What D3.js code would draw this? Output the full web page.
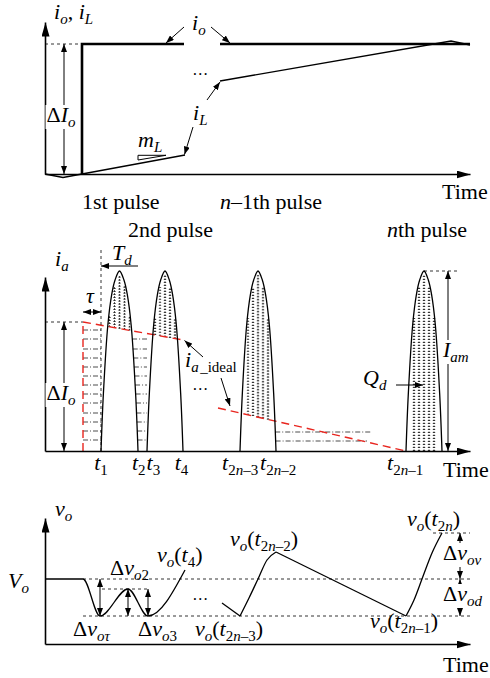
<!DOCTYPE html>
<meta charset="utf-8">
<style>
  body { margin: 0; background: #fff; }
  .thin { fill: none; stroke: #000; stroke-width: 1.3; }
  .thick { fill: none; stroke: #000; stroke-width: 2.6; }
  .ann { fill: none; stroke: #000; stroke-width: 1; }
  .guide { fill: none; stroke: #000; stroke-width: 0.8; stroke-dasharray: 3,3; }
  .red { fill: none; stroke: #e8261f; stroke-width: 1.4; stroke-dasharray: 8,5; }
  .hatch { fill: none; stroke: #000; stroke-width: 0.7; stroke-dasharray: 5,2,1,2; }
  .strip { fill: none; stroke: #111; stroke-width: 0.8; stroke-dasharray: 1.5,1.5; }
  .cross { fill: none; stroke: #111; stroke-width: 2.4; stroke-dasharray: 0.7,2.3; }
</style>
<body></body>
<script src="https://d3js.org/d3.v7.min.js"></script>
<script>
// ---- data (time in tenths of the axis length unit) ----
// top panel: output current i_o and inductor current i_L
var ioLevel = 13;                       // ΔI_o
var ioSegments = [[[3.7, 0], [3.7, 13], [13.9, 13]], [[17.5, 13], [42.5, 13]]];
var iLFirst = [[0, 0], [1.8, -0.35], [3.7, 0], [14.0, 1.9]];
var iLLast = [[17.5, 9.3], [40.6, 13.3], [42.5, 12.9]];
var mLWedge = [[9.3, 1.87], [12.1, 1.87], [9.3, 1.4]];

// middle panel: capacitor current pulses
var pulseStart = [5.6, 10.2, 19.5, 36.1];
var pulseEnd = [9.3, 13.8, 23.1, 39.7];
var pulsePeak = 18;                      // I_am
// pulse outline: [half-width fraction, height fraction]
var pulseProfile = [[1, 0], [0.87, 0.32], [0.63, 0.70], [0.42, 0.87], [0.24, 0.95], [0, 1]];
var idealFirst = [[3.8, 12.9], [13.8, 11.1]];
var idealLast = [[17.3, 4.3], [36.1, 0]];
var tauSpan = [3.8, 5.6];
var hatchLevels = [12.1, 11.2, 10.2, 9.3, 8.4, 7.5, 6.6, 5.7, 4.8, 3.8, 2.9, 2.0, 1.1];
var tailHatch = [[1.9, 32.7], [1.0, 32.2]];
var stripOffsets = [-1.0, -0.5, 0, 0.5, 1.0];

// bottom panel: output voltage around V_o
var voFirst = [[0, 0], [3.8, 0], [5.5, -3.7], [8.3, -1.0], [10.3, -3.7], [14.0, 0.9]];
var voDrop = [[17.7, -2.4], [19.5, -3.7]];
var voRise1 = [[19.5, -3.7], [20.4, -1.9], [21.3, 0], [22.2, 1.9], [23.1, 2.7]];
var voRamp = [[23.1, 2.7], [36.1, -3.7]];
var voRise2 = [[36.1, -3.7], [36.9, -2.1], [37.7, 0], [38.7, 2.6], [39.7, 4.6]];
var voGuides = [[0, 3.8, 42.5], [-3.7, 3.8, 42.5], [-1.0, 5.7, 10.3], [4.6, 38.8, 42.5]];
var voSpans = [[5.5, 0, -3.7], [8.3, -1.0, -3.7], [10.3, -1.0, -3.7], [41.5, 4.6, 0], [41.5, 0, -3.7]];

// ---- setup ----
var FONT = "'Liberation Serif', 'Times New Roman', 'DejaVu Serif', serif";
var svg = d3.select("body").append("svg").attr("width", 490).attr("height", 678);
var defs = svg.append("defs");
defs.append("marker").attr("id", "head").attr("viewBox", "0 0 8 6")
    .attr("refX", 8).attr("refY", 3).attr("markerWidth", 8).attr("markerHeight", 6)
    .attr("markerUnits", "userSpaceOnUse").attr("orient", "auto-start-reverse")
    .append("path").attr("d", "M0,0L8,3L0,6Z");
defs.append("marker").attr("id", "bigHead").attr("viewBox", "0 0 14 8")
    .attr("refX", 14).attr("refY", 4).attr("markerWidth", 14).attr("markerHeight", 8)
    .attr("markerUnits", "userSpaceOnUse").attr("orient", "auto")
    .append("path").attr("d", "M0,0L14,4L0,8Z");

var x = d3.scaleLinear().domain([0, 42.5]).range([45, 470]);
var yT = d3.scaleLinear().domain([0, 15.2]).range([174, 22]);
var yM = d3.scaleLinear().domain([0, 17.4]).range([451, 277]);
var yB = d3.scaleLinear().domain([-6.5, 6.1]).range([644, 518]);

function lineFor(y, curve) {
    return d3.line().x(function (d) { return x(d[0]); }).y(function (d) { return y(d[1]); })
        .curve(curve || d3.curveLinear);
}

function axes(y, base) {
    svg.append("g").attr("transform", "translate(0," + y(base) + ")")
        .call(d3.axisBottom(x).tickValues([]).tickSizeOuter(0))
        .select(".domain").attr("stroke-width", 1.6).attr("marker-end", "url(#bigHead)");
    svg.append("g").attr("transform", "translate(" + x(0) + ",0)")
        .call(d3.axisLeft(y).tickValues([]).tickSizeOuter(0))
        .select(".domain").attr("stroke-width", 1.6).attr("marker-end", "url(#bigHead)");
}

function arrow(y, x1, y1, x2, y2, both) {
    var l = svg.append("line").attr("class", "ann")
        .attr("x1", x(x1)).attr("y1", y(y1)).attr("x2", x(x2)).attr("y2", y(y2))
        .attr("marker-end", "url(#head)");
    if (both) l.attr("marker-start", "url(#head)");
}

function guide(y, pts, cls) {
    svg.append("path").attr("class", cls || "guide").attr("d", lineFor(y)(pts));
}

// parts: [text, flags] ; flags "i" italic, "s" subscript
function label(y, tx, ty, parts, anchor, bg, size) {
    var t = svg.append("text").attr("x", x(tx)).attr("y", y(ty))
        .attr("font-family", FONT).attr("font-size", size || 22)
        .attr("text-anchor", anchor || "start");
    var low = false;
    parts.forEach(function (p) {
        var f = p[1] || "", sub = f.indexOf("s") > -1;
        var s = t.append("tspan").text(p[0]);
        if (sub !== low) { s.attr("dy", sub ? 5 : -5); low = sub; }
        if (f.indexOf("i") > -1) s.attr("font-style", "italic");
        if (f.indexOf("g") > -1) s.attr("dx", 1.5);
        if (sub) s.attr("font-size", 15);
    });
    if (bg) {
        var b = t.node().getBBox();
        svg.insert("rect", function () { return t.node(); })
            .attr("x", b.x - 1).attr("y", b.y + 3).attr("width", b.width + 2)
            .attr("height", b.height - 4).attr("fill", "#fff");
    }
    return t;
}

function dots(y, tx, ty) {
    label(y, tx, ty, [["…"]], "middle", false, 16).attr("letter-spacing", 1.5);
}

// ---- top panel ----
guide(yT, [[0, ioLevel], [3.7, ioLevel]]);
arrow(yT, 1.9, 0, 1.9, ioLevel, true);
svg.append("path").attr("class", "thin").attr("d", lineFor(yT)(iLFirst));
svg.append("path").attr("class", "thin").attr("d", lineFor(yT)(iLLast));
ioSegments.forEach(function (s) {
    svg.append("path").attr("class", "thick").attr("d", lineFor(yT)(s));
});
svg.append("path").attr("class", "ann").attr("stroke-width", 1.2)
    .attr("d", lineFor(yT)(mLWedge) + "Z");
axes(yT, 0);
arrow(yT, 13.9, 14.7, 12.1, 13.1);
arrow(yT, 16.6, 14.7, 18.5, 13.1);
arrow(yT, 16.2, 7.4, 17.5, 9.2);
arrow(yT, 14.8, 4.7, 13.95, 1.95);

label(yT, 0.9, 15.5, [["i", "i"], ["o", "is"], [", "], ["i", "i"], ["L", "is"]]);
label(yT, 14.7, 14.4, [["i", "i"], ["o", "is"]]);
dots(yT, 15.6, 9.9);
label(yT, 14.8, 5.4, [["i", "i"], ["L", "is"]]);
label(yT, 9.3, 2.7, [["m", "i"], ["L", "is"]]);
label(yT, 1.6, 5.2, [["Δ"], ["I", "i"], ["o", "is"]], "middle", true);
label(yT, 3.7, -3.5, [["1st pulse"]]);
label(yT, 17.5, -3.5, [["n", "i"], ["–1th pulse"]]);
label(yT, 39.7, -2.5, [["Time"]]);
label(yT, 8.3, -6.3, [["2nd pulse"]]);
label(yT, 34.2, -6.3, [["n", "i"], ["th pulse"]]);

// ---- middle panel ----
var dFromH = d3.scaleLinear().domain(pulseProfile.map(function (p) { return p[1]; }))
    .range(pulseProfile.map(function (p) { return p[0]; }));
var hFromD = d3.scaleLinear().domain(pulseProfile.map(function (p) { return p[0]; }).reverse())
    .range(pulseProfile.map(function (p) { return p[1]; }).reverse());
var ideal1 = d3.scaleLinear().domain(idealFirst.map(function (p) { return p[0]; }))
    .range(idealFirst.map(function (p) { return p[1]; }));
var ideal2 = d3.scaleLinear().domain(idealLast.map(function (p) { return p[0]; }))
    .range(idealLast.map(function (p) { return p[1]; }));

var pulses = pulseStart.map(function (s, i) {
    return { c: (s + pulseEnd[i]) / 2, hw: (pulseEnd[i] - s) / 2, ideal: i < 2 ? ideal1 : ideal2 };
});

// hatch under the ideal current
hatchLevels.forEach(function (v) {
    guide(yM, [[tauSpan[0], v], [pulseStart[0], v]], "hatch");
    if (v < ideal1(pulseEnd[0])) {
        var p = pulses[0];
        guide(yM, [[p.c + p.hw * dFromH(v / pulsePeak), v], [pulseStart[1], v]], "hatch");
    }
});
tailHatch.forEach(function (h) {
    var p = pulses[2];
    guide(yM, [[p.c + p.hw * dFromH(h[0] / pulsePeak), h[0]], [h[1], h[0]]], "hatch");
});

// charge strips inside each pulse
pulses.forEach(function (p) {
    stripOffsets.forEach(function (o) {
        var t = p.c + o;
        var lo = Math.max(0, p.ideal(t));
        var hi = pulsePeak * hFromD(Math.abs(o) / p.hw) - 0.4;
        if (hi <= lo) return;
        guide(yM, [[t, lo], [t, hi]], "strip");
        guide(yM, [[t, lo], [t, hi]], "cross");
    });
});

guide(yM, [[tauSpan[0], 0], [tauSpan[0], idealFirst[0][1]]], "red");
guide(yM, idealFirst, "red");
guide(yM, idealLast, "red");

pulses.forEach(function (p) {
    var left = pulseProfile.map(function (q) { return [p.c - q[0] * p.hw, q[1] * pulsePeak]; });
    var right = pulseProfile.slice(0, -1).reverse().map(function (q) { return [p.c + q[0] * p.hw, q[1] * pulsePeak]; });
    svg.append("path").attr("class", "thin").attr("stroke-width", 1.5)
        .attr("d", lineFor(yM, d3.curveCatmullRom.alpha(0.5))(left.concat(right)));
});

guide(yM, [[0, idealFirst[0][1]], [tauSpan[0], idealFirst[0][1]]]);
guide(yM, [[pulseStart[0], 0], [pulseStart[0], 20.2]]);
guide(yM, [[pulses[3].c, pulsePeak], [41.5, pulsePeak]]);
axes(yM, 0);
arrow(yM, 1.9, 0, 1.9, idealFirst[0][1], true);
arrow(yM, 40.3, 0, 40.3, pulsePeak, true);
arrow(yM, tauSpan[0], 13.9, tauSpan[1], 13.9, true);
arrow(yM, pulseEnd[0], 18.5, pulseStart[0], 18.5);
arrow(yM, 15.8, 9.4, 13.95, 11.05);
arrow(yM, 17.6, 7.3, 18.5, 4.5);
arrow(yM, 35.1, 6.6, 37.8, 6.6);

label(yM, 1.0, 18.5, [["i", "i"], ["a", "is"]]);
label(yM, 6.7, 19.1, [["T", "i"], ["d", "is"]]);
label(yM, 4.5, 14.8, [["τ", "i"]], "middle");
label(yM, 1.6, 5.1, [["Δ"], ["I", "i"], ["o", "is"]], "middle", true);
label(yM, 14.0, 8.4, [["i", "i"], ["a", "is"], ["_ideal", "sg"]]);
dots(yM, 15.6, 6.1);
label(yM, 31.8, 6.6, [["Q", "i"], ["d", "is"]]);
label(yM, 39.8, 9.4, [["I", "i"], ["am", "is"]], "start", true);
label(yM, 5.6, -1.9, [["t", "i"], ["1", "s"]], "middle");
label(yM, 10.05, -1.9, [["t", "i"], ["2", "s"]], "end");
label(yM, 10.15, -1.9, [["t", "i"], ["3", "s"]]);
label(yM, 13.65, -1.9, [["t", "i"], ["4", "s"]], "middle");
label(yM, 17.7, -1.9, [["t", "i"], ["2", "s"], ["n", "is"], ["–3", "s"]]);
label(yM, 21.5, -1.9, [["t", "i"], ["2", "s"], ["n", "is"], ["–2", "s"]]);
label(yM, 34.2, -1.9, [["t", "i"], ["2", "s"], ["n", "is"], ["–1", "s"]]);
label(yM, 39.8, -2.6, [["Time"]]);

// ---- bottom panel ----
voGuides.forEach(function (g) { guide(yB, [[g[1], g[0]], [g[2], g[0]]]); });
svg.append("path").attr("class", "thin").attr("d", lineFor(yB, d3.curveMonotoneX)(voFirst));
svg.append("path").attr("class", "thin").attr("d", lineFor(yB)(voDrop));
svg.append("path").attr("class", "thin").attr("d", lineFor(yB, d3.curveMonotoneX)(voRise1));
svg.append("path").attr("class", "thin").attr("d", lineFor(yB)(voRamp));
svg.append("path").attr("class", "thin").attr("d", lineFor(yB, d3.curveMonotoneX)(voRise2));
axes(yB, -6.5);
voSpans.forEach(function (s) { arrow(yB, s[0], s[1], s[0], s[2], true); });

label(yB, 1.0, 6.3, [["v", "i"], ["o", "is"]]);
label(yB, -3.7, -0.9, [["V", "i"], ["o", "is"]]);
label(yB, 6.5, 0.4, [["Δ"], ["v", "i"], ["o", "is"], ["2", "s"]]);
label(yB, 11.2, 1.7, [["v", "i"], ["o", "is"], ["("], ["t", "i"], ["4", "s"], [")"]]);
label(yB, 2.8, -5.7, [["Δ"], ["v", "i"], ["oτ", "is"]]);
label(yB, 9.3, -5.7, [["Δ"], ["v", "i"], ["o", "is"], ["3", "s"]]);
dots(yB, 15.6, -2.1);
label(yB, 15.0, -5.7, [["v", "i"], ["o", "is"], ["("], ["t", "i"], ["2", "s"], ["n", "is"], ["–3", "s"], [")"]]);
label(yB, 18.5, 3.3, [["v", "i"], ["o", "is"], ["("], ["t", "i"], ["2", "s"], ["n", "is"], ["–2", "s"], [")"]]);
label(yB, 36.2, 5.3, [["v", "i"], ["o", "is"], ["("], ["t", "i"], ["2", "s"], ["n", "is"], [")"]]);
label(yB, 32.5, -4.9, [["v", "i"], ["o", "is"], ["("], ["t", "i"], ["2", "s"], ["n", "is"], ["–1", "s"], [")"]]);
label(yB, 39.8, 1.9, [["Δ"], ["v", "i"], ["ov", "is"]], "start", true);
label(yB, 39.8, -2.2, [["Δ"], ["v", "i"], ["od", "is"]], "start", true);
label(yB, 39.8, -9.3, [["Time"]]);
</script>
